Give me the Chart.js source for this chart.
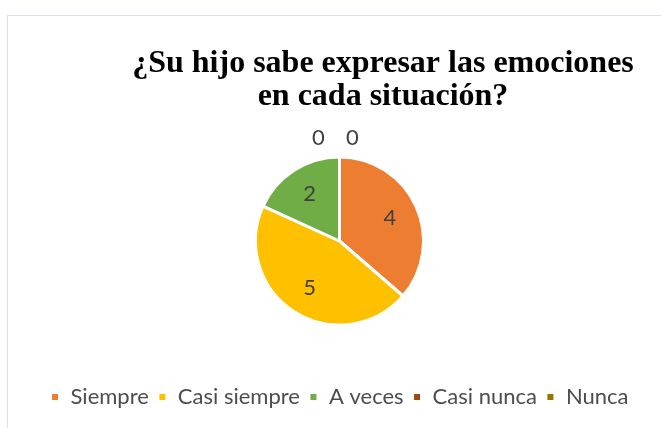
<!DOCTYPE html>
<html>
<head>
<meta charset="utf-8">
<script src="https://cdn.jsdelivr.net/npm/chart.js@4"></script>
<style>
  html, body { margin: 0; padding: 0; background: #fff; }
  #wrap { position: relative; width: 661px; height: 428px; overflow: hidden; }
  #frame { position: absolute; left: 7px; top: 15px; width: 700px; height: 500px; border: 1px solid #dae0ea; }
  canvas { position: absolute; left: 0; top: 0; }
</style>
</head>
<body>
<div id="wrap">
  <div id="frame"></div>
  <canvas id="c" width="661" height="428"></canvas>
</div>
<script>
const titleLines = ['¿Su hijo sabe expresar las emociones', 'en cada situación?'];
const categories = ['Siempre', 'Casi siempre', 'A veces', 'Casi nunca', 'Nunca'];
const counts = [4, 5, 2, 0, 0];
const colors = ['#ED7D31', '#FFC000', '#70AD47', '#9E480E', '#997300'];

// title drawn by hand, it sits right of the pie centre like in Excel
const titlePlugin = {
  id: 'excelTitle',
  afterDraw(chart) {
    const ctx = chart.ctx;
    ctx.save();
    ctx.font = 'bold 32px "Liberation Serif"';
    ctx.fillStyle = '#000';
    ctx.textAlign = 'center';
    ctx.textBaseline = 'alphabetic';
    titleLines.forEach((t, i) => ctx.fillText(t, 383, 72 + i * 33));
    ctx.restore();
  }
};

// data labels inside slices, zero values stacked above the pie
const valueLabels = {
  id: 'valueLabels',
  afterDatasetsDraw(chart) {
    const ctx = chart.ctx;
    const meta = chart.getDatasetMeta(0);
    ctx.save();
    ctx.font = '22px Lato';
    ctx.fillStyle = '#404040';
    ctx.textAlign = 'center';
    ctx.textBaseline = 'middle';
    let z = 0;
    meta.data.forEach((arc, i) => {
      const v = counts[i];
      const p = arc.getProps(['x', 'y', 'startAngle', 'endAngle', 'outerRadius'], true);
      if (v === 0) {
        ctx.fillText(v, p.x - 21 + z * 34, p.y - p.outerRadius - 19);
        z++;
        return;
      }
      const mid = (p.startAngle + p.endAngle) / 2;
      const r = p.outerRadius * 0.66;
      ctx.fillText(v, p.x + Math.cos(mid) * r, p.y + Math.sin(mid) * r);
    });
    ctx.restore();
  }
};

new Chart(document.getElementById('c'), {
  type: 'pie',
  data: {
    labels: categories,
    datasets: [{
      data: counts,
      backgroundColor: colors,
      borderColor: '#fff',
      borderWidth: 3,
      radius: 84
    }]
  },
  options: {
    responsive: false,
    animation: false,
    layout: { padding: { top: 105, left: 18, bottom: 10 } },
    plugins: {
      title: { display: false },
      tooltip: { enabled: false },
      legend: {
        position: 'bottom',
        labels: {
          boxWidth: 9,
          boxHeight: 9,
          padding: 9,
          color: '#4d4d4d',
          font: { family: 'Lato', size: 22 }
        }
      }
    }
  },
  plugins: [titlePlugin, valueLabels]
});
</script>
</body>
</html>
